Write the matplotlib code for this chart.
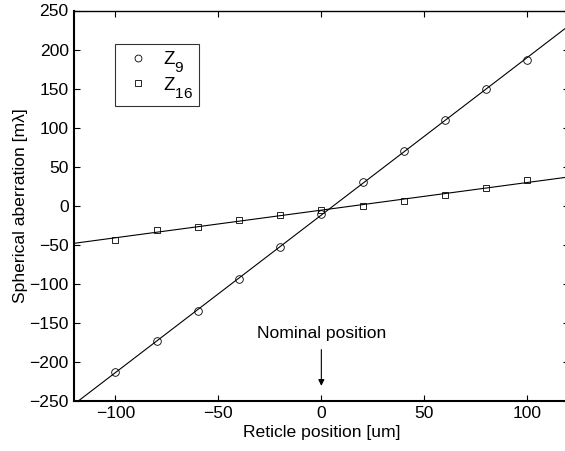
import numpy as np
import matplotlib
matplotlib.use("Agg")
import matplotlib.pyplot as plt
try:
    import matplotlib._mathtext as _mt
    _mt.FontConstantsBase.sub1 = 0.85
    _mt.SHRINK_FACTOR = 0.82
except Exception:
    pass

plt.rcParams['font.family'] = ['Liberation Sans', 'DejaVu Sans']
plt.rcParams['mathtext.fontset'] = 'custom'
plt.rcParams['mathtext.rm'] = 'Liberation Sans'

x_pos = [-100, -80, -60, -40, -20, 0, 20, 40, 60, 80, 100]
z9 = [-213, -174, -135, -94, -53, -11, 30, 70, 110, 150, 187]
z16 = [-44, -31, -27, -19, -12, -5, 0, 6, 13, 22, 33]
x_ticks = [-100, -50, 0, 50, 100]
y_ticks = list(range(-250, 251, 50))

fs = 12.6
fig = plt.figure(figsize=(5.65, 4.51), dpi=100)
ax = fig.add_axes([74.2/565, 1-400.7/451, (568.5-74.2)/565, (400.7-10.5)/451])

xl = (-120, 120)
xx = np.array(xl, dtype=float)
for ys in (z9, z16):
    p = np.polyfit(x_pos, ys, 1)
    ax.plot(xx, np.polyval(p, xx), color='black', lw=0.8)

ax.plot(x_pos, z9, 'o', ms=5.5, mfc='none', mec='black', mew=0.6, label=r'$\mathregular{Z_{9}}$')
ax.plot(x_pos, z16, 's', ms=4.5, mfc='none', mec='black', mew=0.6, label=r'$\mathregular{Z_{16}}$')

ax.set_xlim(*xl)
ax.set_ylim(-250, 250)
ax.set_xticks(x_ticks)
ax.set_yticks(y_ticks)
ax.set_xticklabels([str(v).replace('-', '\u2212') for v in x_ticks])
ax.set_yticklabels([str(v).replace('-', '\u2212') for v in y_ticks])
ax.tick_params(direction='in', top=True, right=True, labelsize=fs, length=4, width=0.8, pad=4)
for s in ax.spines.values():
    s.set_linewidth(1.0)
ax.spines['left'].set_linewidth(1.5)
ax.spines['bottom'].set_linewidth(1.5)

ax.set_xlabel('Reticle position [um]', fontsize=fs, labelpad=3)
ax.set_ylabel('Spherical aberration [m\u03bb]', fontsize=fs, labelpad=1)

ax.annotate('Nominal position', xy=(0, -231), xytext=(0, -170),
            ha='center', va='baseline', fontsize=fs,
            arrowprops=dict(arrowstyle='-|>', color='black', lw=0.8,
                            mutation_scale=9, shrinkA=4, shrinkB=0))

leg = ax.legend(loc='upper left', bbox_to_anchor=(40.8/494.3, 1-33.8/390.2),
                fontsize=13.5, frameon=True, fancybox=False, edgecolor='black',
                handlelength=1.9, handletextpad=0.35, borderpad=0.3, labelspacing=-0.02,
                borderaxespad=0, markerscale=0.9)
leg.get_frame().set_linewidth(0.8)

fig.savefig('out.png', dpi=100)
